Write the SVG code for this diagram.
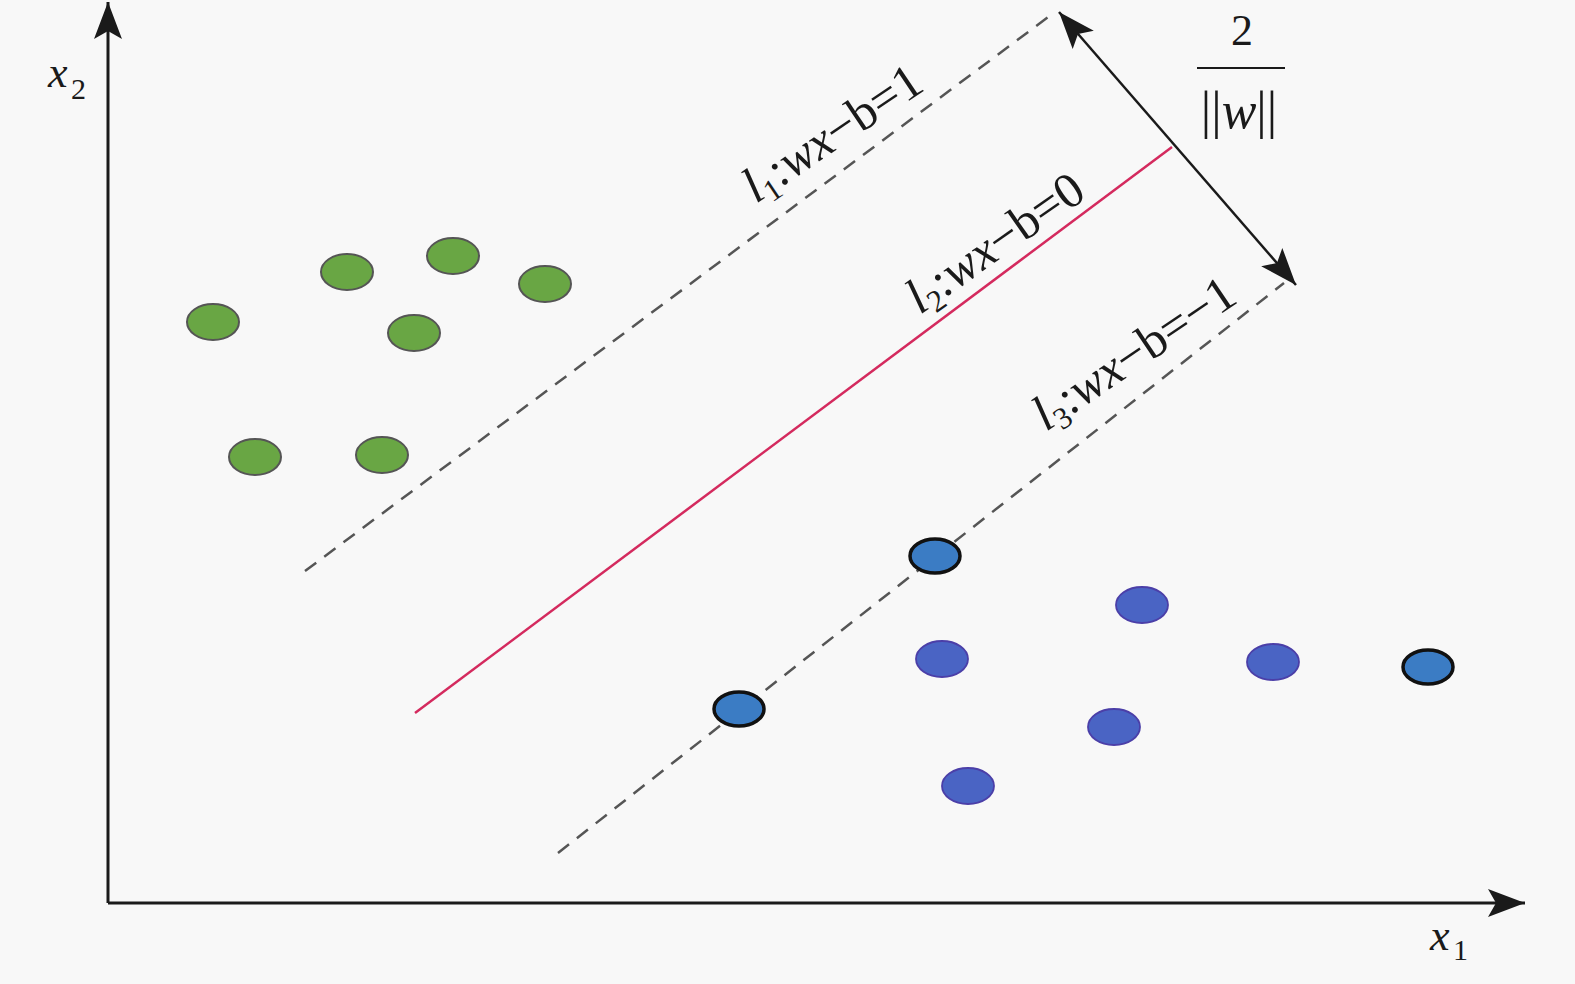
<svg xmlns="http://www.w3.org/2000/svg" width="1575" height="984" viewBox="0 0 1575 984">
<style>
.ax{stroke:#1a1a1a;stroke-width:3;fill:none}
.dash{stroke:#555;stroke-width:2.5;stroke-dasharray:14 10;fill:none}
.hyp{stroke:#d42a5e;stroke-width:2.5;fill:none}
.g{fill:#69a644;stroke:#555;stroke-width:2}
.b{fill:#4a64c4;stroke:#4b3fa8;stroke-width:1.8}
.sv{fill:#3b7cc4;stroke:#111;stroke-width:3.5}
text{font-family:"Liberation Serif","Times New Roman",serif;fill:#1a1a1a}
.it{font-style:italic}
</style>
<defs>
<marker id="ah" viewBox="-40 -16 42 32" refX="0" refY="0" markerWidth="42" markerHeight="32" markerUnits="userSpaceOnUse" orient="auto-start-reverse">
<path d="M0,0 L-37,-14 L-29,0 L-37,14 Z" fill="#1a1a1a"/>
</marker>
</defs>
<rect width="1575" height="984" fill="#f8f8f8"/>
<g id="connectors">
<line id="axis-x1" class="ax" x1="108" y1="903" x2="1525" y2="903" marker-end="url(#ah)"/>
<line id="axis-x2" class="ax" x1="108" y1="903" x2="108" y2="2" marker-end="url(#ah)"/>
<line id="l1" class="dash" x1="305" y1="571" x2="1055" y2="12"/>
<line id="l2" class="hyp" x1="415" y1="713" x2="1172" y2="147"/>
<line id="l3" class="dash" x1="558" y1="853" x2="1284" y2="283"/>
<line id="margin" stroke="#1a1a1a" stroke-width="2.5" x1="1059" y1="12" x2="1296" y2="285" marker-start="url(#ah)" marker-end="url(#ah)"/>
</g>
<g id="labels">
<text x="48" y="87" font-size="44" class="it">x</text><text x="71" y="99" font-size="30">2</text>
<text x="1430" y="950" font-size="44" class="it">x</text><text x="1453" y="960" font-size="30">1</text>
<g id="frac">
<text x="1242" y="45" font-size="44" text-anchor="middle">2</text>
<line x1="1197" y1="68" x2="1285" y2="68" stroke="#1a1a1a" stroke-width="2"/>
<text x="1239" y="128" font-size="52" text-anchor="middle">||<tspan class="it">w</tspan>||</text>
</g>
<text transform="translate(756,204) rotate(-34)" font-size="50"><tspan class="it">l</tspan><tspan font-size="31" dy="8">1</tspan><tspan dy="-8">:</tspan><tspan class="it">wx</tspan>−b=1</text>
<text transform="translate(920,315) rotate(-35)" font-size="50"><tspan class="it">l</tspan><tspan font-size="31" dy="8">2</tspan><tspan dy="-8">:</tspan><tspan class="it">wx</tspan>−b=0</text>
<text transform="translate(1046,432) rotate(-34)" font-size="50"><tspan class="it">l</tspan><tspan font-size="31" dy="8">3</tspan><tspan dy="-8">:</tspan><tspan class="it">wx</tspan>−b=−1</text>
</g>
<g id="class-green">
<ellipse id="g1" class="g" cx="213" cy="322" rx="26" ry="18"/>
<ellipse id="g2" class="g" cx="347" cy="272" rx="26" ry="18"/>
<ellipse id="g3" class="g" cx="453" cy="256" rx="26" ry="18"/>
<ellipse id="g4" class="g" cx="545" cy="284" rx="26" ry="18"/>
<ellipse id="g5" class="g" cx="414" cy="333" rx="26" ry="18"/>
<ellipse id="g6" class="g" cx="255" cy="457" rx="26" ry="18"/>
<ellipse id="g7" class="g" cx="382" cy="455" rx="26" ry="18"/>
</g>
<g id="class-blue">
<ellipse id="b1" class="sv" cx="935" cy="556" rx="25" ry="17"/>
<ellipse id="b2" class="b" cx="1142" cy="605" rx="26" ry="18"/>
<ellipse id="b3" class="b" cx="942" cy="659" rx="26" ry="18"/>
<ellipse id="b4" class="b" cx="1273" cy="662" rx="26" ry="18"/>
<ellipse id="b5" class="sv" cx="1428" cy="667" rx="25" ry="17"/>
<ellipse id="b6" class="sv" cx="739" cy="709" rx="25" ry="17"/>
<ellipse id="b7" class="b" cx="1114" cy="727" rx="26" ry="18"/>
<ellipse id="b8" class="b" cx="968" cy="786" rx="26" ry="18"/>
</g>
</svg>
